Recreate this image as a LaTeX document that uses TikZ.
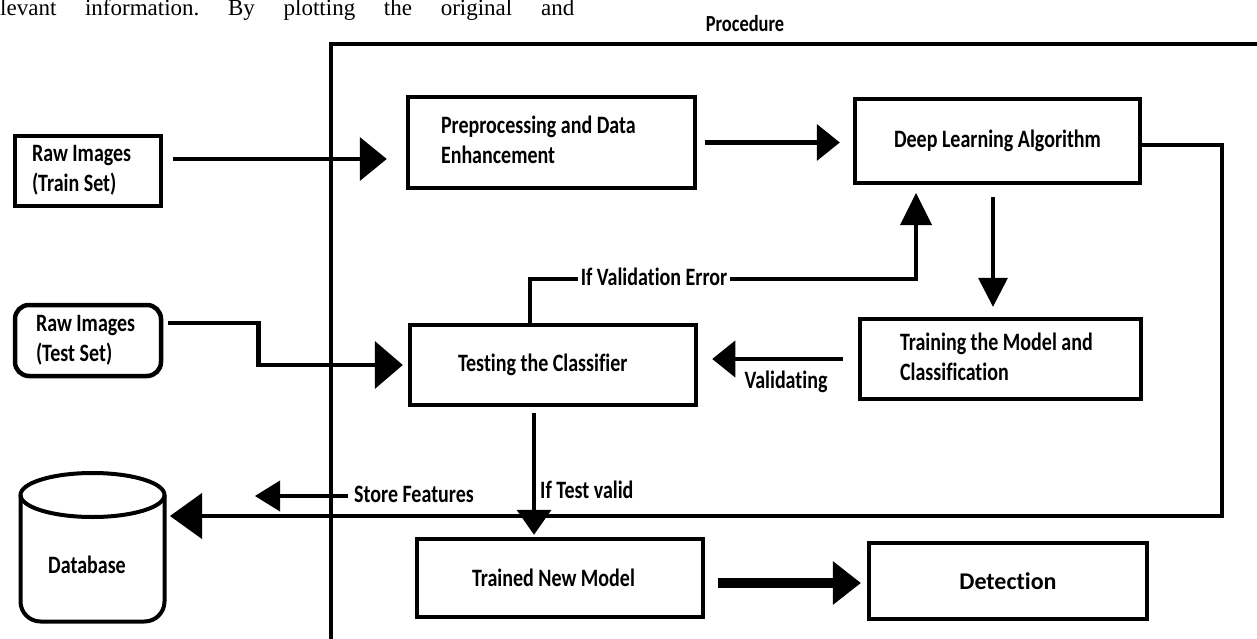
\documentclass[tikz,border=0pt]{standalone}
\usepackage{fontspec}
\setmainfont{Liberation Serif}
\newfontfamily\cfont[FakeStretch=0.8, Ligatures=NoCommon]{Carlito}
\newfontfamily\dfont[Ligatures=NoCommon]{Carlito}
\usetikzlibrary{arrows.meta,calc}

% left-aligned block of lines inside a slot of fixed width
\newcommand\boxlines[2]{\makebox[#1][l]{\begin{tabular}{@{}l@{}}#2\end{tabular}}}

\tikzset{
  box/.style={draw, line width=4.5pt, inner sep=0pt,
    font=\cfont\bfseries\fontsize{25}{30}\selectfont},
  lbl/.style={inner sep=0pt, font=\cfont\bfseries\fontsize{25}{30}\selectfont},
  flow/.style n args={2}{line width=4.5pt,
    -{Triangle[length=#1,width=#2,line width=0pt]}},
}

\begin{document}
\begin{tikzpicture}[x=1pt, y=-1pt]
\useasboundingbox (0,0) rectangle (1257,639);
\fill[white] (0,0) rectangle (1257,639);

% running text of the page above the figure
\node[anchor=base west, inner sep=0pt, font=\fontsize{23}{27}\selectfont] (cut) at (0,16)
  {\frenchspacing\makebox[574pt][s]{levant information. By plotting the original and}};

% procedure frame
\draw[line width=4pt] (331,645) -- (331,44) -- (1262,44);
\node[lbl, font=\cfont\bfseries\fontsize{23}{28}\selectfont] (proc) at (745,24) {Procedure};

% inputs
\node[box, minimum width=146pt, minimum height=70pt]
  (train) at (88,171) {\boxlines{112pt}{Raw Images\\(Train Set)}};
\node[box, rounded corners=14pt, minimum width=146pt, minimum height=71pt]
  (rawtest) at (88,340.5) {\boxlines{104pt}{Raw Images\\(Test Set)}};

% processing steps
\node[box, minimum width=287pt, minimum height=91pt]
  (prep) at (551.5,142.5) {\boxlines{221pt}{Preprocessing and Data\\Enhancement}};
\node[box, minimum width=285pt, minimum height=84pt]
  (DL) at (997.5,141) {Deep Learning Algorithm};
\node[box, minimum width=281pt, minimum height=80pt]
  (training) at (1000.5,359) {\boxlines{201pt}{Training the Model and\\Classification}};
\node[box, minimum width=286pt, minimum height=80pt]
  (testing) at (553,365) {\makebox[190pt][l]{Testing the Classifier}};
\node[box, minimum width=286pt, minimum height=78pt]
  (trained) at (560,578) {\makebox[176pt][l]{Trained New Model}};
\node[box, line width=3.5pt, minimum width=278pt, minimum height=76pt,
  font=\dfont\bfseries\fontsize{24}{29}\selectfont]
  (detection) at (1008,581) {Detection};

% database
\node[inner sep=0pt, outer sep=2pt, minimum width=144pt, minimum height=150pt] (db) at (92.5,547) {};
\draw[line width=4pt] (20.5,495) [rounded corners=20pt] -- (20.5,621.5) -- (164.5,621.5) -- (164.5,495);
\draw[line width=4pt] (92.5,495) ellipse [x radius=72pt, y radius=22pt];
\node[lbl] (dbtxt) at (87,565) {Database};

% connectors
\draw[flow={27pt}{44pt}, shorten <=10pt, shorten >=19pt]
  ([yshift=12pt]train.east) -- ([yshift=12pt]train.east -| prep.west);
\draw[flow={23pt}{37pt}, shorten <=8pt, shorten >=13pt]
  (prep.east) -- (prep.east -| DL.west);
\draw[flow={29pt}{30pt}, shorten <=12pt, shorten >=10pt]
  ([xshift=-4.5pt]DL.south) -- ([xshift=-4.5pt]DL.south |- training.north);
\draw[flow={23pt}{37pt}, shorten <=15pt, shorten >=14pt]
  (training.west) -- (training.west -| testing.east);
\draw[flow={28pt}{48pt}, shorten <=5pt, shorten >=5pt]
  ([yshift=17.5pt]rawtest.east) -- ++(95,0) |- (testing.west);
\draw[flow={32pt}{32pt}, shorten >=7.75pt]
  ([xshift=-23pt]testing.north) -- ++(0,-43.75) -| ([xshift=-81.5pt]DL.south);
\draw[flow={25pt}{35pt}, shorten <=6pt, shorten >=2pt]
  ([xshift=-19pt]testing.south) -- ([xshift=-19pt]testing.south |- trained.north);
\draw[line width=10pt, -{Triangle[length=28pt,width=44pt,line width=0pt]},
  shorten <=13pt, shorten >=6.5pt]
  ([yshift=-5pt]trained.east) -- ([yshift=-5pt]trained.east -| detection.west);
\draw[flow={32pt}{46pt}, shorten >=3.5pt]
  ([yshift=-4pt]DL.east) -- ++(79.75,0) |- ([yshift=31pt]db.east);

% labels on connectors
\node[lbl, fill=white, inner xsep=3pt] (verr) at (654,277) {If Validation Error};
\node[lbl] (val) at (786,382) {Validating};
\node[lbl, anchor=west] (tv) at (540,489.5) {If Test valid};
\node[lbl] (sf) at (414,494.5) {Store Features};
\coordinate (sfend) at (255,496);
\draw[flow={25pt}{31pt}, shorten <=6pt] ([yshift=-1.5pt]sf.west) -- (sfend);
\end{tikzpicture}
\end{document}
